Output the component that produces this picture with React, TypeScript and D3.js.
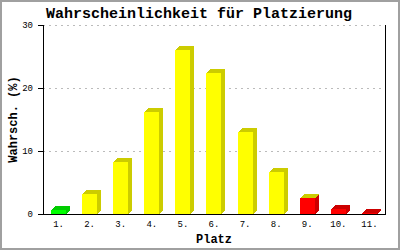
import React from "react";
import * as d3 from "d3";

const categories = ["1.", "2.", "3.", "4.", "5.", "6.", "7.", "8.", "9.", "10.", "11."];
const values = [0.6, 3.2, 8.3, 16.2, 26.0, 22.4, 13.0, 6.7, 2.5, 0.8, 0.15];
const yTicks = [0, 10, 20, 30];
const title = "Wahrscheinlichkeit für Platzierung";
const xTitle = "Platz";
const yTitle = "Wahrsch. (%)";

const W = 400;
const H = 250;
const left = 43;
const right = 385;
const top = 25;
const bottom = 214;
const barW = 15;
const depth = 4;
const FONT = "'Liberation Mono', 'DejaVu Sans Mono', monospace";

const GREEN = { front: "#00ff00", dark: "#00cc00" };
const YELLOW = { front: "#ffff00", dark: "#cccc00" };
const RED = { front: "#ff0000", dark: "#cc0000" };

function frontPal(i: number) {
  return i === 0 ? GREEN : i < 8 ? YELLOW : RED;
}
function topPal(i: number) {
  return i === 0 ? GREEN : i < 9 ? YELLOW : RED;
}

export default function App() {
  const x = d3.scaleBand<string>().domain(categories).range([left, right]);
  const y = d3.scaleLinear().domain([0, 30]).range([bottom, top]);

  return (
    <svg
      width={W}
      height={H}
      style={{ position: "absolute", left: 0, top: 0, background: "#fff" }}
    >
      <rect x={0} y={0} width={W} height={H} fill="#fff" />
      <rect x={1} y={1} width={W - 2} height={H - 2} fill="none" stroke="#a0a0a0" strokeWidth={2} />

      {/* grid */}
      {yTicks.filter((t) => t > 0).map((t) => (
        <line
          key={"g" + t}
          x1={left}
          x2={right}
          y1={Math.round(y(t)) + 0.5}
          y2={Math.round(y(t)) + 0.5}
          stroke="#bbbbbb"
          strokeDasharray="2,4"
        />
      ))}

      {/* bars */}
      {values.map((v, i) => {
        const cx = (x(categories[i]) as number) + x.bandwidth() / 2;
        const x0 = Math.round(cx - barW / 2);
        const x1 = x0 + barW;
        const yt = Math.round(y(v));
        const yb = bottom;
        const fp = frontPal(i);
        const tp = topPal(i);
        const side = `${x1},${yt} ${x1 + depth},${yt - depth} ${x1 + depth},${yb - depth} ${x1},${yb}`;
        const topFace = `${x0},${yt} ${x0 + depth},${yt - depth} ${x1 + depth},${yt - depth} ${x1},${yt}`;
        return (
          <g key={"b" + i} shapeRendering="crispEdges">
            <polygon points={side} fill={fp.dark} />
            <polygon points={topFace} fill={tp.dark} />
            <rect x={x0} y={yt} width={barW} height={Math.max(0, yb - yt)} fill={fp.front} />
          </g>
        );
      })}

      {/* axes */}
      <g shapeRendering="crispEdges">
        <line x1={left + 0.5} x2={left + 0.5} y1={top} y2={bottom + 1} stroke="#000" />
        <line x1={right + 0.5} x2={right + 0.5} y1={top} y2={bottom + 1} stroke="#000" />
        <line x1={left} x2={right + 1} y1={bottom + 0.5} y2={bottom + 0.5} stroke="#000" />
        {yTicks.map((t) => (
          <line
            key={"t" + t}
            x1={left - 5}
            x2={left}
            y1={Math.round(y(t)) + 0.5}
            y2={Math.round(y(t)) + 0.5}
            stroke="#000"
          />
        ))}
      </g>

      {yTicks.map((t) => (
        <text
          key={"yl" + t}
          x={left - 10}
          y={y(t) + 3}
          textAnchor="end"
          fontFamily={FONT}
          fontSize={9}
          fill="#000"
        >
          {t}
        </text>
      ))}

      {categories.map((c) => (
        <text
          key={"xl" + c}
          x={(x(c) as number) + x.bandwidth() / 2}
          y={227}
          textAnchor="middle"
          fontFamily={FONT}
          fontSize={9}
          fill="#000"
        >
          {c}
        </text>
      ))}

      <text
        x={199}
        y={18}
        textAnchor="middle"
        fontFamily={FONT}
        fontWeight="bold"
        fontSize={15}
        fill="#000"
      >
        {title}
      </text>

      <text
        x={(left + right) / 2}
        y={243}
        textAnchor="middle"
        fontFamily={FONT}
        fontWeight="bold"
        fontSize={12}
        fill="#000"
      >
        {xTitle}
      </text>

      <text
        transform={`translate(17, ${(top + bottom) / 2}) rotate(-90)`}
        textAnchor="middle"
        fontFamily={FONT}
        fontWeight="bold"
        fontSize={12}
        fill="#000"
      >
        {yTitle}
      </text>
    </svg>
  );
}
